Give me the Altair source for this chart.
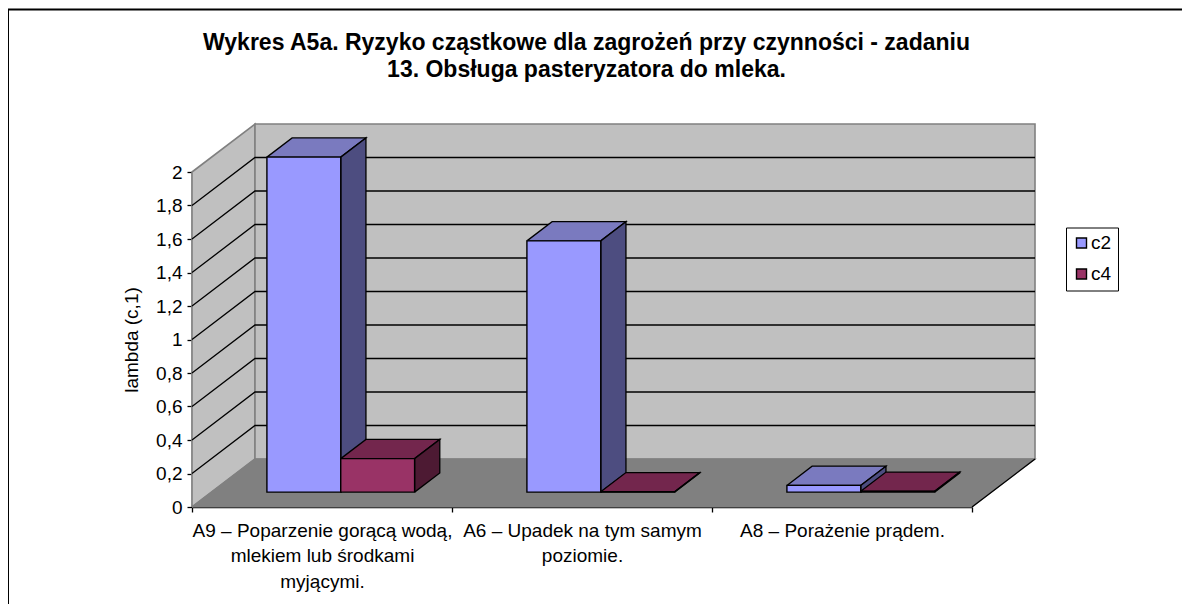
import altair as alt
import pandas as pd

TITLE = ["Wykres A5a. Ryzyko cząstkowe dla zagrożeń przy czynności - zadaniu",
         "13. Obsługa pasteryzatora do mleka."]
CAT_LINES = [["A9 – Poparzenie gorącą wodą,", "mlekiem lub środkami", "myjącymi."],
             ["A6 – Upadek na tym samym", "poziomie."],
             ["A8 – Porażenie prądem."]]
SERIES = ["c2", "c4"]
C2 = [2.0, 1.5, 0.04]
C4 = [0.2, 0.002, 0.005]
FRONT = {"c2": "#9999FF", "c4": "#993366"}
TOP = {"c2": "#7A7ABF", "c4": "#73264D"}
SIDE = {"c2": "#4D4D80", "c4": "#4D1A33"}
TICKS = [round(i * 0.2, 1) for i in range(11)]

PX_X, PX_Y = 260.0, 167.5
DX, DY = 63 / PX_X, 48 / PX_Y      # oblique depth of the floor
GAP, BW = 0.213, 0.284             # bar layout in category units
F0, F1 = 0.31, 0.71                # bar depth range as fraction of floor
FONT = "Liberation Sans"
FS = 19.0


def proj(x, v, f):
    return x + DX * f, v + DY * f


polys = []


def add(name, pts, fill, stroke, sw):
    pts = list(pts) + [pts[0]] if fill != "none" else list(pts)
    for i, (x, y) in enumerate(pts):
        polys.append(dict(id=name, i=i, x=x, y=y, fill=fill, stroke=stroke, sw=sw))


# walls and floor
add("wall_left", [proj(0, 0, 0), proj(0, 2, 0), proj(0, 2, 1), proj(0, 0, 1)], "#C0C0C0", "#808080", 1.6)
add("wall_back", [proj(0, 0, 1), proj(0, 2, 1), proj(3, 2, 1), proj(3, 0, 1)], "#C0C0C0", "#808080", 1.6)
add("floor", [proj(0, 0, 0), proj(3, 0, 0), proj(3, 0, 1), proj(0, 0, 1)], "#808080", "#808080", 1.2)
for t in TICKS[1:-1]:
    add(f"g{t}", [proj(0, t, 0), proj(0, t, 1), proj(3, t, 1)], "none", "#000000", 1.3)
add("floor_edge", [proj(3, 0, 0), proj(3, 0, 1)], "none", "#000000", 1.3)

# bar top and side faces, and fronts
fronts = []
for s_i, (s, vals) in enumerate(zip(SERIES, [C2, C4])):
    for c_i, v in enumerate(vals):
        x0 = c_i + GAP + s_i * BW
        x1 = x0 + BW
        add(f"top{s}{c_i}", [proj(x0, v, F0), proj(x1, v, F0), proj(x1, v, F1), proj(x0, v, F1)], TOP[s], "#000000", 1.3)
        add(f"side{s}{c_i}", [proj(x1, 0, F0), proj(x1, v, F0), proj(x1, v, F1), proj(x1, 0, F1)], SIDE[s], "#000000", 1.3)
        fx0, fy0 = proj(x0, 0, F0)
        fx1, fy1 = proj(x1, v, F0)
        fronts.append(dict(series=s, x=fx0, x2=fx1, y=fy1, y2=fy0))

poly_df = pd.DataFrame(polys)
front_df = pd.DataFrame(fronts)

xs = alt.Scale(domain=[0, 3], nice=False, zero=False)
ys = alt.Scale(domain=[0, 2], nice=False, zero=False)

label_expr = "[" + ",".join("[" + ",".join(repr(l) for l in c) + "]" for c in CAT_LINES) + "][floor(datum.value)]"

y_axis = alt.Axis(values=TICKS, title="lambda (c,1)", grid=False, domainColor="#000",
                  domainWidth=1.5, tickColor="#000", tickWidth=1.3, tickSize=5,
                  labelExpr="replace(format(datum.value, '.1~f'), '.', ',')", labelFontSize=FS,
                  labelColor="#000", labelPadding=5, titleFontSize=FS, titleColor="#000",
                  titleFontWeight="normal", titlePadding=14, titleFont=FONT,
                  labelFont=FONT, labelOverlap=False, labelBound=False,
                  labelFlush=False, labelSeparation=0)

faces = alt.Chart(poly_df).mark_line(strokeJoin="miter", clip=False, interpolate="linear").encode(
    x=alt.X("x:Q", scale=xs, axis=alt.Axis(values=[0, 1, 2, 3], labels=False, title=None, grid=False,
                                           domain=False, tickColor="#000", tickWidth=1.3, tickSize=5, orient="bottom")),
    y=alt.Y("y:Q", scale=ys, axis=y_axis),
    detail="id:N",
    order="i:Q",
    fill=alt.Fill("fill:N", scale=None),
    stroke=alt.Stroke("stroke:N", scale=None),
    strokeWidth=alt.StrokeWidth("sw:Q", scale=None),
)

fronts_layer = alt.Chart(front_df).mark_rect(stroke="#000", strokeWidth=1.4, clip=False).encode(
    x=alt.X("x:Q", scale=xs, axis=alt.Axis(values=[0.5, 1.5, 2.5], ticks=False, domainColor="#000", domainWidth=1.5,
                                           grid=False, title=None, orient="bottom", labelExpr=label_expr,
                                           labelFont=FONT, labelFontSize=FS, labelColor="#000",
                                           labelPadding=14, labelLineHeight=25.7, labelOverlap=False,
                                           labelFlush=False, labelBound=False, labelLimit=400)),
    x2="x2:Q",
    y=alt.Y("y:Q", scale=ys, axis=y_axis),
    y2="y2:Q",
    fill=alt.Fill("series:N", scale=alt.Scale(domain=SERIES, range=[FRONT[s] for s in SERIES]),
                  legend=alt.Legend(title=None, orient="none", legendX=874, legendY=55.5, symbolType="square",
                                    symbolSize=100, symbolStrokeColor="#000", symbolStrokeWidth=1.4,
                                    labelFont=FONT, labelFontSize=FS, labelColor="#000",
                                    strokeColor="#000", fillColor="#fff", padding=6, rowPadding=11, labelOffset=0)),
)

border = alt.Chart(pd.DataFrame({"a": [0]})).mark_rule(color="#000", strokeWidth=2, clip=False).encode(
    x=alt.value(-184), x2=alt.value(1000), y=alt.value(-162.5), y2=alt.value(-162.5))
border_l = alt.Chart(pd.DataFrame({"a": [0]})).mark_rule(color="#000", strokeWidth=2, clip=False).encode(
    x=alt.value(-184), y=alt.value(-162.5), y2=alt.value(440))

chart = alt.layer(faces, fronts_layer, border, border_l).resolve_axis(x="independent").properties(
    width=780, height=335,
    padding={"left": 184, "top": 164, "right": 210, "bottom": 97},
    autosize=alt.AutoSizeParams(type="none"),
    background="#ffffff",
    title=alt.TitleParams(TITLE, font=FONT, fontSize=23, fontWeight="bold", color="#000",
                          lineHeight=27, anchor="middle", dx=4.5, dy=73, offset=0),
).configure_view(stroke=None)

chart.save("out.html", embed_options={"renderer": "svg", "actions": False})
